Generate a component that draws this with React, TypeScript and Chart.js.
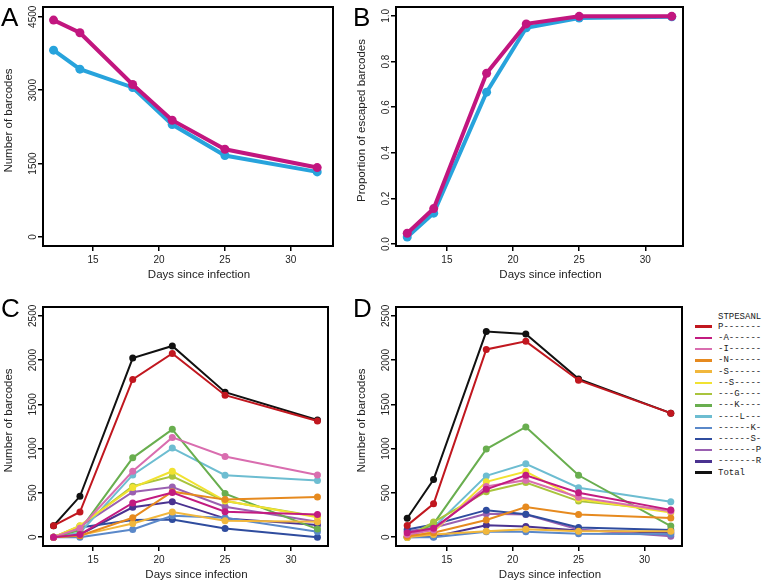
import React, { useEffect, useRef } from "react";
import { Chart, registerables } from "chart.js";
Chart.register(...registerables);

const FONT = "'Liberation Sans', Arial, Helvetica, sans-serif";

const days = [12, 14, 18, 21, 25, 32];
const xTicks = [15, 20, 25, 30];

// Panel A
const aMagenta = [4432, 4173, 3116, 2386, 1793, 1418];
const aBlue = [3818, 3430, 3055, 2298, 1664, 1330];
const aYTicks = [0, 1500, 3000, 4500];

// Panel B
const bMagenta = [0.048, 0.156, 0.749, 0.965, 0.998, 0.998];
const bBlue = [0.031, 0.136, 0.666, 0.948, 0.991, 0.996];
const bYTicks = [0, 0.2, 0.4, 0.6, 0.8, 1.0];

const magenta = "#C2167F";
const blue = "#27A3DC";

// Panels C & D
const cdYTicks = [0, 500, 1000, 1500, 2000, 2500];
const legendHeader = "STPESANL";
const mutantLabels = [
  "P-------", "-A------", "-I------", "-N------", "-S------", "--S-----", "---G----",
  "---K----", "----L---", "------K-", "------S-", "-------P", "-------R", "Total",
];
const mutantColors = [
  "#C1171F", "#C21B80", "#D96DAF", "#E68A1F", "#F1B73C", "#F1E231", "#A9C43D",
  "#69AE4F", "#6DBDD1", "#5A88C9", "#2F4C9E", "#9A60B1", "#4A3290", "#111111",
];

// Panel C values (per mutant, by day)
const cP = [129, 284, 1781, 2076, 1604, 1312];
const cA = [0, 30, 386, 503, 287, 255];
const cI = [0, 100, 745, 1127, 911, 703];
const cN = [0, 15, 219, 514, 424, 454];
const cS2 = [0, 20, 155, 285, 185, 175];
const cS3 = [0, 130, 560, 745, 410, 225];
const cG = [0, 125, 575, 688, 408, 234];
const cK4 = [0, 80, 896, 1218, 492, 91];
const cL = [0, 50, 703, 1006, 700, 639];
const cK7 = [0, 0, 87, 242, 219, 60];
const cS7 = [0, 110, 193, 200, 98, 0];
const cP8 = [0, 120, 510, 567, 344, 174];
const cR8 = [0, 30, 337, 401, 212, 136];
const cTotal = [129, 461, 2023, 2160, 1638, 1324];

// Panel D values
const dP = [133, 376, 2121, 2212, 1773, 1401];
const dA = [50, 100, 540, 700, 502, 308];
const dI = [30, 80, 572, 644, 450, 293];
const dN = [10, 49, 194, 341, 255, 217];
const dS2 = [0, 30, 68, 90, 68, 68];
const dS3 = [0, 60, 625, 741, 430, 277];
const dG = [0, 171, 513, 617, 407, 304];
const dK4 = [0, 150, 995, 1245, 699, 125];
const dL = [0, 110, 692, 829, 559, 399];
const dK7 = [0, 0, 61, 60, 38, 34];
const dS7 = [87, 144, 305, 258, 110, 80];
const dP8 = [68, 106, 265, 255, 87, 11];
const dR8 = [0, 4, 135, 120, 76, 49];
const dTotal = [213, 650, 2322, 2295, 1788, 1401];

const cSeries = [cP, cA, cI, cN, cS2, cS3, cG, cK4, cL, cK7, cS7, cP8, cR8, cTotal];
const dSeries = [dP, dA, dI, dN, dS2, dS3, dG, dK4, dL, dK7, dS7, dP8, dR8, dTotal];

const framePlugin = {
  id: "rframe",
  afterDraw(chart: any, _args: any, opts: any) {
    const { ctx, chartArea } = chart;
    const { left, right, top, bottom } = chartArea;
    ctx.save();
    ctx.strokeStyle = "#000";
    ctx.lineWidth = 2;
    ctx.strokeRect(left, top, right - left, bottom - top);
    // rotated y tick labels
    const ys = chart.scales.y;
    ctx.fillStyle = "#222";
    ctx.font = `10px ${FONT}`;
    ctx.textAlign = "center";
    ctx.textBaseline = "middle";
    for (const t of ys.ticks) {
      const py = ys.getPixelForValue(t.value);
      ctx.save();
      ctx.translate(left - 10, py);
      ctx.rotate(-Math.PI / 2);
      ctx.fillText(opts.yFmt(t.value), 0, 0);
      ctx.restore();
    }
    // axis titles
    ctx.font = `11.5px ${FONT}`;
    ctx.fillText(opts.xTitle, (left + right) / 2 + 11, bottom + 29);
    ctx.save();
    ctx.translate(left - 34, (top + bottom) / 2 - 6);
    ctx.rotate(-Math.PI / 2);
    ctx.fillText(opts.yTitle, 0, 0);
    ctx.restore();
    ctx.restore();
  },
};

type Series = { values: number[]; color: string };

type PanelProps = {
  left: number; top: number; width: number; height: number;
  padTop: number; padRight: number; yWidth: number; xHeight: number;
  series: Series[]; yMin: number; yMax: number; yTicks: number[];
  yFmt: (v: number) => string; xMin: number; xMax: number; yTitle: string;
  lineWidth: number; pointRadius: number;
};

function Panel(p: PanelProps) {
  const ref = useRef<HTMLCanvasElement>(null);
  useEffect(() => {
    if (!ref.current) return;
    const chart = new Chart(ref.current, {
      type: "line",
      data: {
        datasets: p.series.map((s) => ({
          data: days.map((d, i) => ({ x: d, y: s.values[i] })),
          borderColor: s.color,
          backgroundColor: s.color,
          pointBackgroundColor: s.color,
          pointBorderColor: s.color,
          pointBorderWidth: 0,
          pointRadius: p.pointRadius,
          borderWidth: p.lineWidth,
          tension: 0,
          fill: false,
        })),
      },
      options: {
        animation: false,
        responsive: false,
        maintainAspectRatio: false,
        layout: { padding: { top: p.padTop, right: p.padRight, left: 0, bottom: 0 } },
        plugins: {
          legend: { display: false },
          tooltip: { enabled: false },
          rframe: { yFmt: p.yFmt, xTitle: "Days since infection", yTitle: p.yTitle },
        } as any,
        scales: {
          x: {
            type: "linear",
            min: p.xMin,
            max: p.xMax,
            afterBuildTicks: (s: any) => { s.ticks = xTicks.map((v) => ({ value: v })); },
            afterFit: (s: any) => { s.height = p.xHeight; },
            grid: { drawOnChartArea: false, drawTicks: true, tickLength: 5, color: "#000", lineWidth: 1.5 },
            border: { display: false },
            ticks: {
              color: "#222", font: { size: 10, family: FONT }, padding: 3,
              maxRotation: 0, autoSkip: false, callback: (v: any) => String(v),
            },
          },
          y: {
            type: "linear",
            min: p.yMin,
            max: p.yMax,
            afterBuildTicks: (s: any) => { s.ticks = p.yTicks.map((v) => ({ value: v })); },
            afterFit: (s: any) => { s.width = p.yWidth; },
            grid: { drawOnChartArea: false, drawTicks: true, tickLength: 5, color: "#000", lineWidth: 1.5 },
            border: { display: false },
            ticks: { display: false },
          },
        },
      },
      plugins: [framePlugin],
    });
    return () => chart.destroy();
  }, []);
  return (
    <canvas
      ref={ref}
      width={p.width}
      height={p.height}
      style={{ position: "absolute", left: p.left, top: p.top, width: p.width, height: p.height, display: "block" }}
    />
  );
}

const letterStyle = (left: number, top: number): React.CSSProperties => ({
  position: "absolute", left, top, fontFamily: FONT, fontSize: 26, lineHeight: "26px", color: "#000",
});

export default function App() {
  const abFmt = (v: number) => String(v);
  const bFmt = (v: number) => v.toFixed(1);
  const cd = (vals: number[][]) => vals.map((v, i) => ({ values: v, color: mutantColors[i] }));
  return (
    <div style={{ position: "absolute", left: 0, top: 0, width: 762, height: 582, background: "#fff", overflow: "hidden" }}>
      <Panel left={0} top={0} width={340} height={290} padTop={7} padRight={7} yWidth={43} xHeight={44}
        series={[{ values: aMagenta, color: magenta }, { values: aBlue, color: blue }]}
        yMin={-185} yMax={4700} yTicks={aYTicks} yFmt={abFmt} xMin={11.2} xMax={33.2}
        yTitle="Number of barcodes" lineWidth={4} pointRadius={4.5} />
      <Panel left={350} top={0} width={340} height={290} padTop={7} padRight={7} yWidth={46} xHeight={44}
        series={[{ values: bMagenta, color: magenta }, { values: bBlue, color: blue }]}
        yMin={-0.008} yMax={1.039} yTicks={bYTicks} yFmt={bFmt} xMin={11.15} xMax={32.85}
        yTitle="Proportion of escaped barcodes" lineWidth={4} pointRadius={4.5} />
      <Panel left={0} top={290} width={340} height={292} padTop={17} padRight={12} yWidth={43} xHeight={36}
        series={cd(cSeries)}
        yMin={-100} yMax={2600} yTicks={cdYTicks} yFmt={abFmt} xMin={11.2} xMax={32.8}
        yTitle="Number of barcodes" lineWidth={2} pointRadius={3.5} />
      <Panel left={350} top={290} width={340} height={292} padTop={17} padRight={8} yWidth={46} xHeight={36}
        series={cd(dSeries)}
        yMin={-100} yMax={2600} yTicks={cdYTicks} yFmt={abFmt} xMin={11.15} xMax={32.85}
        yTitle="Number of barcodes" lineWidth={2} pointRadius={3.5} />
      <div style={letterStyle(1, 4)}>A</div>
      <div style={letterStyle(353, 4)}>B</div>
      <div style={letterStyle(1, 295)}>C</div>
      <div style={letterStyle(353, 295)}>D</div>
      <div style={{ position: "absolute", left: 718, top: 317 - 6, fontFamily: "'Liberation Mono', 'DejaVu Sans Mono', monospace", fontSize: 9, lineHeight: "12px", color: "#222", whiteSpace: "pre" }}>
        {legendHeader}
      </div>
      {mutantLabels.map((lab, i) => (
        <div key={lab} style={{ position: "absolute", left: 695, top: 326.7 + 11.23 * i - 6, height: 12, display: "flex", alignItems: "center", whiteSpace: "pre" }}>
          <div style={{ width: 17, height: 2.5, background: mutantColors[i], marginRight: 6 }} />
          <span style={{ fontFamily: "'Liberation Mono', 'DejaVu Sans Mono', monospace", fontSize: 9, lineHeight: "12px", color: "#222" }}>{lab}</span>
        </div>
      ))}
    </div>
  );
}
